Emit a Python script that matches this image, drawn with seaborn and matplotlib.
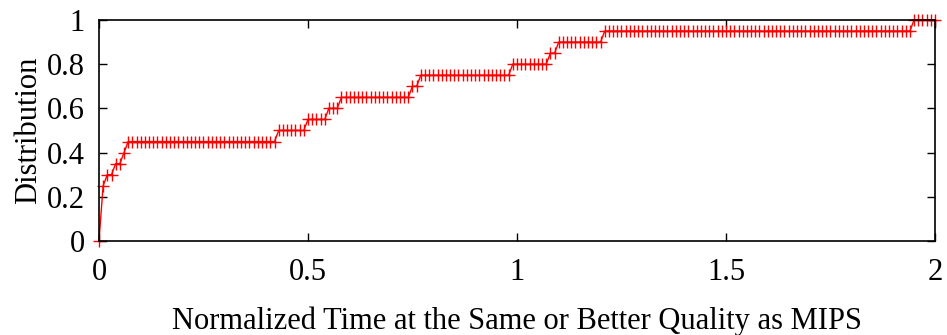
import numpy as np
import pandas as pd
import matplotlib
matplotlib.use("Agg")
import matplotlib.pyplot as plt
import seaborn as sns

# CDF levels and number of sampled points (grid step 0.01 on [0, 2]) at each level
distribution_levels = [0.00, 0.25, 0.30, 0.35, 0.40, 0.45, 0.50, 0.55, 0.60,
                       0.65, 0.70, 0.75, 0.80, 0.85, 0.90, 0.95, 1.00]
points_per_level = [1, 1, 2, 2, 1, 36, 7, 5, 3, 17, 2, 22, 9, 2, 11, 74, 6]
x_start, x_stop, x_step = 0.0, 2.0, 0.01

x_ticks = [0, 0.5, 1, 1.5, 2]
x_tick_labels = ["0", "0.5", "1", "1.5", "2"]
y_ticks = [0, 0.2, 0.4, 0.6, 0.8, 1.0]
y_tick_labels = ["0", "0.2", "0.4", "0.6", "0.8", "1"]

x_vals = np.round(np.arange(x_start, x_stop + x_step / 2, x_step), 4)
y_vals = np.repeat(distribution_levels, points_per_level)
df = pd.DataFrame({"time": x_vals, "dist": y_vals})

sns.set_theme(style="ticks")
plt.rcParams["font.family"] = ["Liberation Serif", "DejaVu Serif"]
plt.rcParams["text.color"] = "black"
plt.rcParams["axes.labelcolor"] = "black"

fig = plt.figure(figsize=(9.47, 3.35), dpi=100)
ax = fig.add_axes([0.1045, 0.2806, 0.9873 - 0.1045, 0.9403 - 0.2806])

sns.lineplot(data=df, x="time", y="dist", ax=ax, color="#ff0000",
             linewidth=1.0, marker="+", markersize=8, markeredgewidth=1.0,
             markeredgecolor="#ff0000", sort=False, clip_on=False)

ax.set_xlim(0, 2)
ax.set_ylim(0, 1)
ax.set_xticks(x_ticks)
ax.set_xticklabels(x_tick_labels)
ax.set_yticks(y_ticks)
ax.set_yticklabels(y_tick_labels)
ax.tick_params(direction="in", length=6, width=1, top=True, right=True,
               labelsize=22, colors="black", labelcolor="black")
ax.tick_params(axis="x", pad=12)
ax.tick_params(axis="y", pad=10)
for s in ax.spines.values():
    s.set_visible(True)
    s.set_linewidth(1.2)
    s.set_color("black")

ax.set_xlabel("Normalized Time at the Same or Better Quality as MIPS",
              fontsize=22, labelpad=14, color="black")
ax.set_ylabel("Distribution", fontsize=22, labelpad=3, color="black")

fig.savefig("out.png", dpi=100)
